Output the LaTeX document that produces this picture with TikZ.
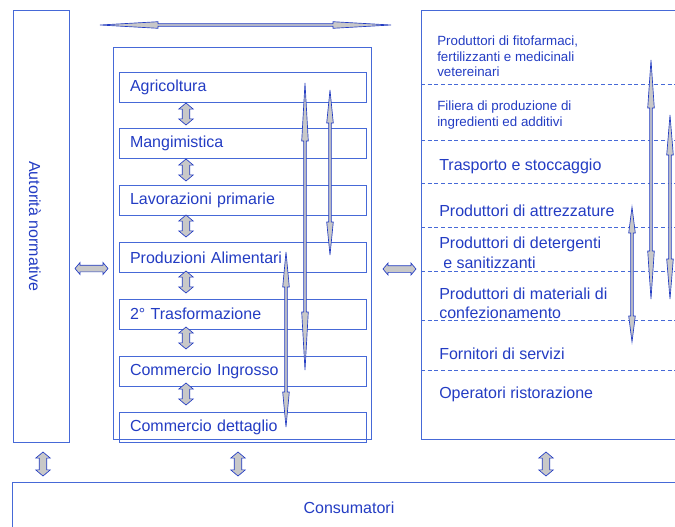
\documentclass[tikz,border=0pt]{standalone}
\usepackage{fontspec}
\setmainfont{Liberation Sans}
\usepackage{tikz}
\usetikzlibrary{positioning}
\usetikzlibrary{shapes.arrows}
\definecolor{bluetext}{RGB}{35,60,195}
\definecolor{blueline}{RGB}{70,105,215}
\definecolor{arrowgray}{RGB}{200,200,200}

% long thin double arrow: x, top, bottom, head length
\newcommand{\longarrow}[4]{%
\filldraw[thinarr] (#1,#2) -- ++(3.3,#4) -- ++(-2,0) -- (#1+1.3,#3-#4) -- ++(2,0) -- (#1,#3) -- ++(-3.3,-#4) -- ++(2,0) -- (#1-1.3,#2+#4) -- ++(-2,0) -- cycle;}

\begin{document}
\begin{tikzpicture}[x=0.75pt, y=-0.75pt, node distance=19.5pt,
frame/.style={draw=blueline, line width=0.6pt},
stage/.style={draw=blueline, line width=0.6pt, minimum height=22.5pt, text width=168.75pt, inner xsep=8.25pt, align=left, text=bluetext, font=\fontsize{12}{14.4}\selectfont},
lab/.style={text=bluetext, font=\fontsize{12}{14.4}\selectfont, inner sep=0pt, anchor=west, align=left},
smalllab/.style={text=bluetext, font=\fontsize{10}{11.6}\selectfont, inner sep=0pt, anchor=west, align=left},
sep/.style={draw=blueline, line width=0.6pt, dash pattern=on 3pt off 2pt},
thinarr/.style={draw=bluetext, fill=arrowgray, line width=0.5pt, line join=miter},
fatarrow/.style={double arrow, draw=bluetext, fill=arrowgray, line width=0.5pt, inner xsep=0pt, inner ysep=2.6pt, double arrow head extend=2.6pt, double arrow tip angle=100, minimum height=16.5pt},
sidearrow/.style={fatarrow, inner ysep=2.25pt, double arrow head extend=1.9pt, minimum height=24.75pt}]

\useasboundingbox (0,0) rectangle (675,526);
\clip (0,0) rectangle (675,526);

% left column
\draw[frame] (13,10) rectangle (69,442);
\node[lab, anchor=center, rotate=-90] (autorita) at (35,226) {Autorità normative};

% middle column
\draw[frame] (113,47) rectangle (371,439);
\node[stage] (agri) at (242.5,87) {Agricoltura};
\node[stage, below=of agri] (mangi) {Mangimistica};
\node[stage, below=of mangi] (lavor) {Lavorazioni primarie};
\node[stage, below=of lavor] (prod) {Produzioni Alimentari};
\node[stage, below=of prod] (trasf) {2° Trasformazione};
\node[stage, below=of trasf] (ingr) {Commercio Ingrosso};
\node[stage, below=of ingr] (dett) {Commercio dettaglio};

\node[fatarrow, rotate=90] (a1) at (186,114) {};
\node[fatarrow, rotate=90] (a2) at (186,170) {};
\node[fatarrow, rotate=90] (a3) at (186,226) {};
\node[fatarrow, rotate=90] (a4) at (186,282) {};
\node[fatarrow, rotate=90] (a5) at (186,338) {};
\node[fatarrow, rotate=90] (a6) at (186,394) {};

% right column
\draw[frame] (421,10) rectangle (690,439);
\draw[sep] (421,84) -- (690,84);
\draw[sep] (421,140) -- (690,140);
\draw[sep] (421,183) -- (690,183);
\draw[sep] (421,227) -- (690,227);
\draw[sep] (421,271) -- (690,271);
\draw[sep] (421,320) -- (690,320);
\draw[sep] (421,370) -- (690,370);

\node[smalllab] (fito) at (437,56.5) {Produttori di fitofarmaci,\\fertilizzanti e medicinali\\vetereinari};
\node[smalllab, font=\fontsize{10}{12}\selectfont] (ingred) at (437,115) {Filiera di produzione di\\ingredienti ed additivi};
\node[lab] (trasp) at (439,166) {Trasporto e stoccaggio};
\node[lab] (attr) at (439,211) {Produttori di attrezzature};
\node[lab, font=\fontsize{12}{15}\selectfont] (deterg) at (439,253) {Produttori di detergenti\\\hspace{3pt}e sanitizzanti};
\node[lab, font=\fontsize{12}{14.25}\selectfont] (confez) at (439,303.5) {Produttori di materiali di\\confezionamento};
\node[lab] (serv) at (439,354) {Fornitori di servizi};
\node[lab] (ristor) at (439,394) {Operatori ristorazione};

% consumers
\draw[frame] (12,482) rectangle (690,540);
\node[lab, anchor=center] (consum) at (349,508) {Consumatori};

% block arrows between columns
\node[sidearrow] (sx) at (91.5,268.5) {};
\node[sidearrow] (dx) at (399.5,269) {};
\node[fatarrow, rotate=90, minimum height=18pt] (b1) at (43,464) {};
\node[fatarrow, rotate=90, minimum height=18pt] (b2) at (238,464) {};
\node[fatarrow, rotate=90, minimum height=18pt] (b3) at (546,464) {};

% long arrows
\filldraw[thinarr] (100,25) -- ++(58,-3.3) -- ++(0,2) -- (333,23.7) -- ++(0,-2) -- (391,25) -- ++(-58,3.3) -- ++(0,-2) -- (158,26.3) -- ++(0,2) -- cycle;
\longarrow{305}{83}{370}{58}
\longarrow{330}{90}{255}{33}
\longarrow{286}{252}{427}{35}
\longarrow{651}{60}{299}{48}
\longarrow{670}{115}{299}{40}
\longarrow{632}{207}{342}{26}
\end{tikzpicture}
\end{document}
